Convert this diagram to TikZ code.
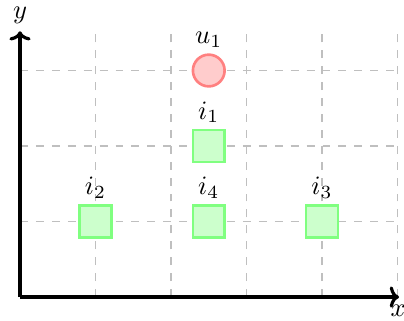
\documentclass[tikz,border=0pt]{standalone}
\usetikzlibrary{arrows.meta}
\begin{document}
\begin{tikzpicture}[
  gridline/.style={gray!50, dashed, line width=0.4pt},
  axisline/.style={line width=1.2pt, -{To[length=3.5pt,width=8pt]}},
  usernode/.style={circle, draw=red!50, fill=red!20, line width=1pt, minimum size=0.42cm, inner sep=0pt},
  itemnode/.style={rectangle, draw=green!50, fill=green!20, line width=1pt, minimum size=0.42cm, inner sep=0pt},
  lbl/.style={font=\normalsize, inner sep=2pt}
]
\useasboundingbox (-0.265,-0.305) rectangle (5.086,3.934);
\draw[gridline] (0,0) grid[step=1] (5,3.5);
\coordinate (O) at (0,0);
\coordinate (X) at (5.02,0);
\coordinate (Y) at (0,3.52);
\draw[axisline] (O) -- (X);
\draw[axisline] (O) -- (Y);
\node[lbl] (xl) at (5.01,-0.18) {$x$};
\node[lbl] (yl) at (0,3.73) {$y$};
\node[usernode, label={[lbl]above:$u_1$}] (u1) at (2.5,3) {};
\node[itemnode, label={[lbl]above:$i_1$}] (i1) at (2.5,2) {};
\node[itemnode, label={[lbl]above:$i_2$}] (i2) at (1,1) {};
\node[itemnode, label={[lbl]above:$i_4$}] (i4) at (2.5,1) {};
\node[itemnode, label={[lbl]above:$i_3$}] (i3) at (4,1) {};
\end{tikzpicture}
\end{document}
